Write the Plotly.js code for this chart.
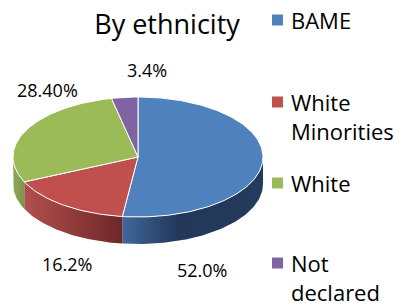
<!DOCTYPE html>
<html>
<head>
<meta charset="utf-8">
<script src="https://cdn.plot.ly/plotly-3.0.1.min.js"></script>
<style>html,body{margin:0;padding:0;background:#fff;}#chart{width:402px;height:308px;}</style>
</head>
<body>
<div id="chart"></div>
<script>
// ---- data ----
const categories = ['BAME', 'White Minorities', 'White', 'Not declared'];
const legendLines = [['BAME'], ['White', 'Minorities'], ['White'], ['Not', 'declared']];
const values = [52.0, 16.2, 28.4, 3.4];
const valueLabels = ['52.0%', '16.2%', '28.40%', '3.4%'];

// ---- styles ----
const topColors = ['#4f81bd', '#c0504d', '#9bbb59', '#8064a2'];
const sideScales = [
  [[0, '#41689a'], [0.4, '#22375a'], [1, '#243b5c']],
  [[0, '#b24f4d'], [1, '#6e2727']],
  [[0, '#8eaa55'], [1, '#7c9649']],
  [[0, '#6a5288'], [1, '#5a4575']]
];
const FONT = 'Open Sans, sans-serif';
const LEGEND_SIZE = 22;

// ---- geometry (pixel space of the 402x308 canvas) ----
const W = 402, H = 308;
const cx = 138, cy = 157, rx = 125, ry = 60, depth = 27;
const labelPos = [[202, 270], [67, 264], [47, 90], [147, 70]];
const legend = {markX: 272, markSize: 11, textX: 289, lineGap: LEGEND_SIZE * 1.3, firstY: [20, 102, 183, 263]};

function pt(deg, dy) {
  const t = deg * Math.PI / 180;
  return [cx + rx * Math.sin(t), cy - ry * Math.cos(t) + (dy || 0)];
}
function arc(a0, a1, dy) {
  const pts = [];
  const n = Math.max(2, Math.ceil(Math.abs(a1 - a0)));
  for (let k = 0; k <= n; k++) pts.push(pt(a0 + (a1 - a0) * k / n, dy));
  return pts;
}

const total = values.reduce((a, b) => a + b, 0);
const starts = [], ends = [];
let acc = 0;
values.forEach(v => { starts.push(acc / total * 360); acc += v; ends.push(acc / total * 360); });

const traces = [];
// side walls (front half: 90..270 deg)
values.forEach((v, i) => {
  const s = Math.max(starts[i], 90), e = Math.min(ends[i], 270);
  if (e <= s) return;
  const pts = arc(s, e, 0).concat(arc(e, s, depth));
  traces.push({
    type: 'scatter', mode: 'lines', fill: 'toself',
    x: pts.map(p => p[0]), y: pts.map(p => p[1]),
    line: {width: 0, color: topColors[i]},
    fillcolor: sideScales[i][0][1],
    fillgradient: {type: 'horizontal', colorscale: sideScales[i]},
    hoverinfo: 'skip', showlegend: false
  });
});
// top face
values.forEach((v, i) => {
  const pts = [[cx, cy]].concat(arc(starts[i], ends[i], 0)).concat([[cx, cy]]);
  traces.push({
    type: 'scatter', mode: 'lines', fill: 'toself',
    x: pts.map(p => p[0]), y: pts.map(p => p[1]),
    line: {width: 1, color: '#ffffff'},
    fillcolor: topColors[i],
    name: categories[i], text: valueLabels[i], hoverinfo: 'name+text', showlegend: false
  });
});

const annotations = [];
valueLabels.forEach((t, i) => annotations.push({
  x: labelPos[i][0], y: labelPos[i][1], xref: 'x', yref: 'y', text: t, showarrow: false,
  xanchor: 'center', yanchor: 'middle', font: {family: FONT, size: 18, color: '#000'}
}));
const shapes = [];
legendLines.forEach((lines, i) => {
  const y0 = legend.firstY[i];
  shapes.push({type: 'rect', xref: 'x', yref: 'y', x0: legend.markX, x1: legend.markX + legend.markSize,
    y0: y0 - legend.markSize / 2, y1: y0 + legend.markSize / 2, fillcolor: topColors[i], line: {width: 0}});
  annotations.push({
    x: legend.textX, y: y0 + (lines.length - 1) * legend.lineGap / 2, xref: 'x', yref: 'y',
    text: lines.join('<br>'), showarrow: false, align: 'left',
    xanchor: 'left', yanchor: 'middle', font: {family: FONT, size: LEGEND_SIZE, color: '#000'}
  });
});

const layout = {
  width: W, height: H, margin: {l: 0, r: 0, t: 0, b: 0},
  paper_bgcolor: '#ffffff', plot_bgcolor: '#ffffff',
  title: {text: 'By ethnicity', x: 167 / W, xanchor: 'center', y: 1 - 25 / H, yanchor: 'middle',
    yref: 'container', font: {family: FONT, size: 27, color: '#000'}},
  xaxis: {range: [0, W], visible: false, fixedrange: true},
  yaxis: {range: [H, 0], visible: false, fixedrange: true},
  showlegend: false, annotations: annotations, shapes: shapes
};
Plotly.newPlot('chart', traces, layout, {displayModeBar: false, staticPlot: true});
</script>
</body>
</html>
